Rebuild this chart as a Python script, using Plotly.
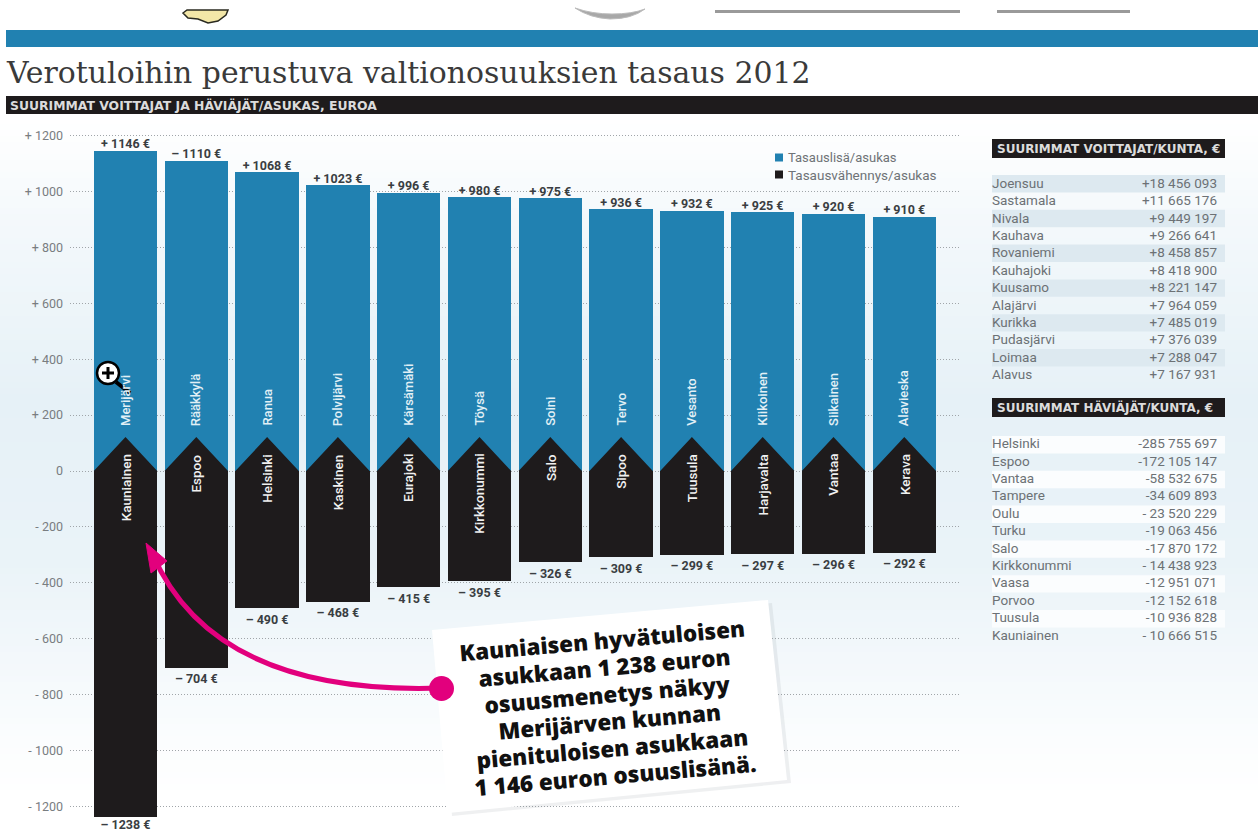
import re
import plotly.graph_objects as go

W, H = 1258, 834

# ---- data ----
gain_names = ["Merijärvi", "Rääkkylä", "Ranua", "Polvijärvi", "Kärsämäki", "Töysä",
              "Soini", "Tervo", "Vesanto", "Kiikoinen", "Siikainen", "Alavieska"]
gain_values = [1146, 1110, 1068, 1023, 996, 980, 975, 936, 932, 925, 920, 910]
gain_labels = ["+ 1146 €", "– 1110 €", "+ 1068 €", "+ 1023 €", "+ 996 €", "+ 980 €",
               "+ 975 €", "+ 936 €", "+ 932 €", "+ 925 €", "+ 920 €", "+ 910 €"]
loss_names = ["Kauniainen", "Espoo", "Helsinki", "Kaskinen", "Eurajoki", "Kirkkonummi",
              "Salo", "Sipoo", "Tuusula", "Harjavalta", "Vantaa", "Kerava"]
loss_values = [-1238, -704, -490, -468, -415, -395, -326, -309, -299, -297, -296, -292]
loss_labels = ["– 1238 €", "– 704 €", "– 490 €", "– 468 €", "– 415 €", "– 395 €",
               "– 326 €", "– 309 €", "– 299 €", "– 297 €", "– 296 €", "– 292 €"]
tick_values = [1200, 1000, 800, 600, 400, 200, 0, -200, -400, -600, -800, -1000, -1200]
tick_labels = ["+ 1200", "+ 1000", "+ 800", "+ 600", "+ 400", "+ 200", "0",
               "- 200", "- 400", "- 600", "- 800", "- 1000", "- 1200"]
win_towns = ["Joensuu", "Sastamala", "Nivala", "Kauhava", "Rovaniemi", "Kauhajoki",
             "Kuusamo", "Alajärvi", "Kurikka", "Pudasjärvi", "Loimaa", "Alavus"]
win_amounts = ["+18 456 093", "+11 665 176", "+9 449 197", "+9 266 641", "+8 458 857",
               "+8 418 900", "+8 221 147", "+7 964 059", "+7 485 019", "+7 376 039",
               "+7 288 047", "+7 167 931"]
lose_towns = ["Helsinki", "Espoo", "Vantaa", "Tampere", "Oulu", "Turku", "Salo",
              "Kirkkonummi", "Vaasa", "Porvoo", "Tuusula", "Kauniainen"]
lose_amounts = ["-285 755 697", "-172 105 147", "-58 532 675", "-34 609 893", "- 23 520 229",
                "-19 063 456", "-17 870 172", "- 14 438 923", "-12 951 071", "-12 152 618",
                "-10 936 828", "- 10 666 515"]

TITLE = "Verotuloihin perustuva valtionosuuksien tasaus 2012"
SUBTITLE = "SUURIMMAT VOITTAJAT JA HÄVIÄJÄT/ASUKAS, EUROA"
HEAD_WIN = "SUURIMMAT VOITTAJAT/KUNTA, €"
HEAD_LOSE = "SUURIMMAT HÄVIÄJÄT/KUNTA, €"
LEGEND_GAIN = "Tasauslisä/asukas"
LEGEND_LOSS = "Tasausvähennys/asukas"
CALLOUT = ["Kauniaisen hyvätuloisen", "asukkaan 1 238 euron", "osuusmenetys näkyy",
           "Merijärven kunnan", "pienituloisen asukkaan", "1 146 euron osuuslisänä."]

BLUE = "#2181b1"
BLACK = "#1e1b1c"
MAGENTA = "#e2007d"
GREY = "#6f7377"
SANS = "Roboto, Arial, sans-serif"
WIDE = "DejaVu Sans, Verdana, sans-serif"

def px(x):
    return x / W

def py(y):
    return 1 - y / H

def rect(x0, y0, x1, y1, fill, layer="below"):
    return dict(type="rect", xref="paper", yref="paper", x0=px(x0), x1=px(x1),
                y0=py(y0), y1=py(y1), fillcolor=fill, line_width=0, layer=layer)

def to_paper(d):
    nums = iter(re.findall(r"[A-Z]|-?\d+\.?\d*", d))
    out = []
    for tok in nums:
        if tok.isalpha():
            out.append(tok)
        else:
            out.append(f"{px(float(tok)):.5f},{py(float(next(nums))):.5f}")
    return " ".join(out)

def path(d, fill=None, line=None, lw=0, layer="above"):
    return dict(type="path", xref="paper", yref="paper", path=to_paper(d),
                fillcolor=fill or "rgba(0,0,0,0)",
                line=dict(color=line or "rgba(0,0,0,0)", width=lw), layer=layer)

def circle(x0, y0, x1, y1, fill, line=None, lw=0):
    return dict(type="circle", xref="paper", yref="paper", x0=px(x0), x1=px(x1),
                y0=py(y1), y1=py(y0), fillcolor=fill,
                line=dict(color=line or "rgba(0,0,0,0)", width=lw), layer="above")

# ---- scales: pixel geometry of the plotting area ----
left, right, top, bottom = 70, 960, 122, 834
zero_px, px_per_unit = 471.0, 55.9 / 200
first_c, step = 125.5, 70.8

y_hi = (zero_px - top) / px_per_unit
y_lo = (zero_px - bottom) / px_per_unit
x_lo = (left - first_c) / step
x_hi = (right - first_c) / step
idx = list(range(len(gain_values)))
bar_w = 63.5 / step

fig = go.Figure()

fig.add_bar(x=idx, y=gain_values, width=bar_w, marker=dict(color=BLUE, line_width=0),
            showlegend=False, name=LEGEND_GAIN)
fig.add_bar(x=idx, y=loss_values, width=bar_w, marker=dict(color=BLACK, line_width=0),
            showlegend=False, name=LEGEND_LOSS)

# chevron tops of the black bars
apex = 34 / px_per_unit
cx, cy = [], []
for i in idx:
    cx += [i - bar_w / 2, i, i + bar_w / 2, i - bar_w / 2, None]
    cy += [0, apex, 0, 0, None]
fig.add_scatter(x=cx, y=cy, mode="lines", fill="toself", fillcolor=BLACK,
                line=dict(width=0, color=BLACK), showlegend=False, hoverinfo="skip")

# value labels just outside the bar ends (kept inside the page at the bottom)
label_font = dict(family=SANS, size=12.5, color="#3a3e42", weight=700)
fig.add_scatter(x=idx, y=[v + 5.5 / px_per_unit for v in gain_values], mode="text",
                text=gain_labels, textposition="middle center", textfont=label_font,
                cliponaxis=False, showlegend=False, hoverinfo="skip")
fig.add_scatter(x=idx, y=[max(v - 12.5 / px_per_unit, y_lo + 8 / px_per_unit) for v in loss_values],
                mode="text", text=loss_labels, textposition="middle center", textfont=label_font,
                cliponaxis=False, showlegend=False, hoverinfo="skip")

# town tables
table_font = dict(family=SANS, size=13.5, color="#6c7175")
none_fill = "rgba(0,0,0,0)"
row_h = 17.4
for towns, amounts, y0 in [(win_towns, win_amounts, 169.5), (lose_towns, lose_amounts, 430)]:
    fig.add_table(
        domain=dict(x=[px(984), px(1226)], y=[py(y0 + row_h * 12 + 10), py(y0)]),
        columnwidth=[1, 1],
        header=dict(height=0.1, values=["", ""], fill_color=none_fill, line_width=0,
                    font=dict(size=1)),
        cells=dict(values=[towns, amounts], height=row_h, fill_color=none_fill, line_width=0,
                   align=["left", "right"], font=table_font),
    )

# ---- shapes ----
shapes = []
stops = [(0, 255, 255, 255), (120, 255, 255, 255), (230, 243, 248, 251), (400, 230, 241, 247),
         (560, 234, 243, 248), (660, 243, 248, 251), (740, 251, 253, 254), (800, 255, 255, 255),
         (834, 255, 255, 255)]
def grad(y):
    for (a, *ca), (b, *cb) in zip(stops, stops[1:]):
        if a <= y <= b:
            t = (y - a) / (b - a)
            return "rgb(%d,%d,%d)" % tuple(round(u + (v - u) * t) for u, v in zip(ca, cb))
    return "#fff"
for y in range(100, 834, 6):
    shapes.append(rect(0, y, W, y + 6, grad(y + 3)))

shapes.append(rect(6, 30, W, 47, BLUE))
shapes.append(rect(6, 96, W, 114, BLACK))
shapes.append(rect(992, 139, 1225, 158, BLACK))
shapes.append(rect(992, 398, 1225, 417, BLACK))
for i in range(0, 12, 2):
    shapes.append(rect(992, 175 + i * row_h, 1225, 175 + (i + 1) * row_h, "#dde9f0"))
    shapes.append(rect(992, 436 + i * row_h, 1225, 436 + (i + 1) * row_h, "#fbfdfe"))

# legend swatches
shapes.append(rect(775, 153.5, 783, 161.5, BLUE))
shapes.append(rect(775, 170.5, 783, 178.5, BLACK))

# clipped material from the page above the chart
shapes.append(path("M183,13 L187,10 L228,10 L226,15 L218,21 L208,23 L198,19 L188,18 Z",
                   fill="#f3e7a8", line="#2a2a20", lw=1.5))
shapes.append(path("M575,8 Q590,18 610,19 Q632,19 645,9 Q632,14 612,14 Q592,14 575,8 Z",
                   fill="#a8a8a8", line="#bbbbbb", lw=1))
shapes.append(rect(715, 10, 960, 13, "#9a9a9a"))
shapes.append(rect(997, 10, 1130, 13, "#9a9a9a"))

# callout box with shadow
shapes.append(path("M436,633 L772,603 L791,783 L452,816 Z", fill="rgba(120,130,140,0.12)"))
shapes.append(path("M432,630 L768,600 L787,780 L448,813 Z", fill="#ffffff"))
# magenta arrow
shapes.append(path("M441,688 C320,692 200,665 152,553", line=MAGENTA, lw=5))
shapes.append(path("M146,543 L167,561 L151,573 Z", fill=MAGENTA, line=MAGENTA, lw=1))
shapes.append(circle(429, 676, 454, 701, MAGENTA))
# magnifier cursor
shapes.append(path("M116,382 L130,393", line="#000000", lw=4))
shapes.append(circle(97, 362, 119, 384, "#ffffff", "#000000", 2.5))
shapes.append(path("M102,373 L114,373 M108,367 L108,379", line="#000000", lw=3))

# ---- annotations ----
ann = []
def text(x, y, s, size, color, family=SANS, weight=400):
    ann.append(dict(xref="paper", yref="paper", x=px(x - 2), y=py(y), text=s, showarrow=False,
                    xanchor="left", yanchor="middle",
                    font=dict(family=family, size=size, color=color, weight=weight)))

text(6, 72, TITLE, 29.9, "#3a3a3a", family="DejaVu Serif, Liberation Serif, serif")
text(10, 105.5, SUBTITLE, 12.4, "#dcdcdc", family=WIDE, weight=700)
text(997, 148.5, HEAD_WIN, 12, "#dcdcdc", family=WIDE, weight=700)
text(997, 407.5, HEAD_LOSE, 12, "#dcdcdc", family=WIDE, weight=700)
text(788, 157.5, LEGEND_GAIN, 13, GREY)
text(788, 174.5, LEGEND_LOSS, 13.5, GREY)

for i in idx:
    ann.append(dict(xref="x", yref="y", x=i, y=154, text=gain_names[i], showarrow=False,
                    textangle=-90, xanchor="center", yanchor="bottom",
                    font=dict(family=SANS, size=13, color="#e2f0f6", weight=500)))
    ann.append(dict(xref="x", yref="y", x=i, y=67, text=loss_names[i], showarrow=False,
                    textangle=-90, xanchor="center", yanchor="top",
                    font=dict(family=SANS, size=13.5, color="#f0f0f0", weight=500)))

for i, line in enumerate(CALLOUT):
    ann.append(dict(xref="paper", yref="paper", x=px(602 + 2.6 * i), y=py(640 + 27 * i),
                    text=line, showarrow=False, textangle=-5, xanchor="center", yanchor="middle",
                    font=dict(family="Open Sans, Arial, sans-serif", size=22.5, color="#111111", weight=800)))

fig.update_layout(
    width=W, height=H, margin=dict(l=0, r=0, t=0, b=0, pad=0, autoexpand=False),
    paper_bgcolor="#ffffff", plot_bgcolor="rgba(0,0,0,0)",
    barmode="overlay", bargap=0, shapes=shapes, annotations=ann, hovermode=False,
    showlegend=False,
    xaxis=dict(domain=[px(left), px(right)], range=[x_lo, x_hi], showgrid=False, zeroline=False,
               showticklabels=False, ticks="", fixedrange=True),
    yaxis=dict(domain=[py(bottom), py(top)], range=[y_lo, y_hi], tickvals=tick_values,
               ticktext=tick_labels, showgrid=True, griddash="1px,2px", gridcolor="#a0a5a9",
               gridwidth=1, zeroline=False, ticks="", ticklabelstandoff=6,
               tickfont=dict(family=SANS, size=12.5, color="#797d81"), fixedrange=True),
)

fig.write_html("out.html", post_script="document.body.style.margin='0';",
               config=dict(displayModeBar=False))
